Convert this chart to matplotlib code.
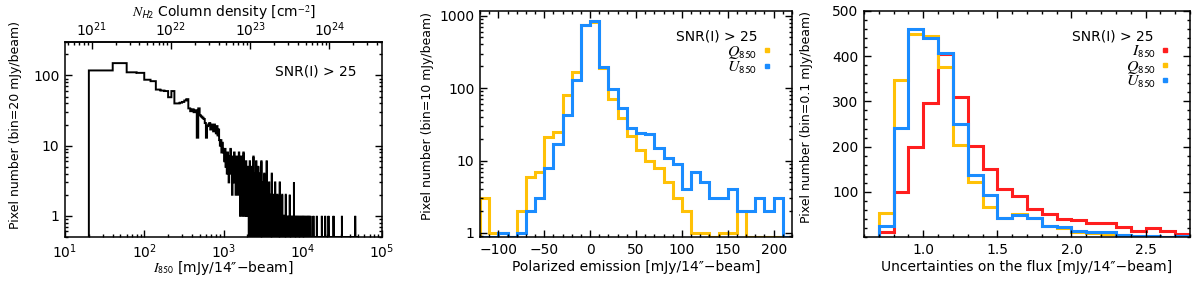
import numpy as np
import matplotlib
matplotlib.use("Agg")
import matplotlib.pyplot as plt
from matplotlib.ticker import (FuncFormatter, NullFormatter, MultipleLocator,
                               FixedLocator)

plt.rcParams['font.family'] = ['DejaVu Sans']
plt.rcParams['font.size'] = 9.5
plt.rcParams['xtick.labelsize'] = 10
plt.rcParams['ytick.labelsize'] = 10
plt.rcParams['mathtext.fontset'] = 'stix'
plt.rcParams['axes.linewidth'] = 1.1

# ---- panel 1: I850 histogram (bin = 20 mJy/beam, starting at 20) ----
i_bin_start = 20
i_bin_width = 20
i_bin_stop = 50000
i_counts = [118, 150, 111, 109, 87, 83, 63, 61, 60, 49,
            60, 40, 40, 41, 42, 44, 46, 34, 31, 33,
            30, 32, 13, 34, 27, 26, 25, 24, 21, 13,
            19, 20, 21, 17, 20, 19, 16, 20, 17, 15,
            19, 14, 17, 12, 10, 12, 8, 11, 9, 8,
            6, 9, 5, 7, 4, 8, 6, 3, 7, 5,
            9, 4, 6, 2, 7, 5, 3, 8, 4, 6,
            2, 5, 7, 3, 6, 2, 4, 8, 3, 5,
            1, 4, 7, 2, 3, 6, 1, 4, 8, 2,
            3, 5, 1, 4, 2, 6, 3, 1, 4, 2,
            5, 1, 3, 0, 4, 2, 6, 1, 3, 0,
            2, 5, 1, 3, 0, 2, 4, 1, 7, 0,
            2, 3, 1, 0, 4, 1, 2, 0, 6, 0]
# sparse tail beyond 2600 mJy/beam: bin lower edge and count
i_tail_edges = [2620, 2660, 2700, 2740, 2780, 2820, 2860, 2900, 2960, 3000,
                3040, 3080, 3120, 3180, 3220, 3260, 3320, 3380, 3440, 3500,
                3560, 3620, 3700, 3760, 3840, 3900, 3980, 4060, 4140, 4220,
                4300, 4400, 4480, 4580, 4680, 4780, 4880, 5000, 5120, 5240,
                5380, 5500, 5640, 5800, 5960, 6100, 6280, 6460, 6640, 6860,
                7060, 7280, 7500, 7740, 7980, 8240, 8500, 8780, 9080, 9400,
                9720, 10060, 10420, 10800, 11200, 11620, 12060, 12500, 13640, 15060,
                17420, 19180, 21120, 24440, 31200, 45900]
i_tail_counts = [1, 3, 1, 5, 2, 1, 4, 1, 2, 6,
                 1, 3, 1, 2, 1, 4, 1, 2, 1, 6,
                 1, 2, 1, 3, 1, 2, 1, 4, 1, 1,
                 2, 1, 3, 1, 1, 2, 1, 1, 3, 1,
                 1, 2, 1, 1, 1, 2, 1, 1, 1, 2,
                 1, 1, 1, 3, 1, 1, 1, 1, 1, 1,
                 1, 1, 1, 1, 1, 1, 1, 1, 1, 1,
                 1, 1, 1, 1, 1, 1]
nh_per_i = 4.6e19

# ---- panel 2: polarized emission (bin = 10 mJy/beam) ----
pol_edges = list(range(-120, 221, 10))
q_counts = [3, 1, 1, 0, 2, 6, 7, 21, 25, 80, 165, 750, 820, 190, 71, 39, 22,
            14, 10, 8, 5, 3, 2, 1, 1, 0, 1, 1, 2, 0, 0, 0, 0, 0]
u_counts = [0, 0, 1, 0, 1, 2, 3, 8, 17, 42, 130, 750, 850, 198, 97, 53, 28,
            24, 23, 15, 11, 9, 4, 7, 5, 3, 3, 4, 2, 2, 3, 2, 3, 0]

# ---- panel 3: flux uncertainties (bin = 0.1 mJy/beam) ----
unc_edges = [0.7, 0.8, 0.9, 1.0, 1.1, 1.2, 1.3, 1.4, 1.5, 1.6, 1.7, 1.8,
             1.9, 2.0, 2.1, 2.2, 2.3, 2.4, 2.5, 2.6, 2.7, 2.8]
i_unc = [11, 99, 200, 297, 404, 310, 201, 150, 107, 90, 62, 50, 39, 37, 31,
         30, 22, 14, 20, 14, 7]
q_unc = [53, 348, 450, 445, 376, 203, 122, 67, 43, 50, 42, 24, 20, 11, 8, 7,
         5, 0, 1, 0, 0]
u_unc = [25, 241, 460, 440, 407, 249, 137, 92, 43, 48, 43, 25, 22, 14, 10, 10,
         5, 2, 3, 0, 2]

c_red = "#FF1E1E"
c_yel = "#FFC107"
c_blu = "#1A8CFF"

W, H = 1200, 287
fig = plt.figure(figsize=(W / 100, H / 100), dpi=100)


def box(l, r, t, b):
    return [l / W, (H - b) / H, (r - l) / W, (b - t) / H]


def style(ax):
    ax.tick_params(which='both', direction='in', top=True, right=True,
                   width=1.0)
    ax.tick_params(which='major', length=5, pad=4)
    ax.tick_params(which='minor', length=2.5)


plain = FuncFormatter(lambda v, p: f"{v:g}")
snr = "SNR(I) > 25"

# panel 1
ax1 = fig.add_axes(box(65, 382, 42, 237))
edges1 = np.arange(i_bin_start, i_bin_stop + i_bin_width, i_bin_width)
full = np.zeros(len(edges1) - 1)
full[:len(i_counts)] = i_counts
for e, c in zip(i_tail_edges, i_tail_counts):
    full[(e - i_bin_start) // i_bin_width] = c
ymin1 = 0.5
ax1.stairs(np.maximum(full, ymin1), edges1, baseline=ymin1, color='black',
           lw=1.4)
ax1.set_xscale('log')
ax1.set_yscale('log')
ax1.set_xlim(10, 1e5)
ax1.set_ylim(ymin1, 300)
style(ax1)
ax1.tick_params(which='both', top=False)
ax1.yaxis.set_major_locator(FixedLocator([1, 10, 100]))
ax1.yaxis.set_major_formatter(plain)
ax1.yaxis.set_minor_formatter(NullFormatter())
ax1.set_xlabel("$\\mathit{I}_{\\mathsf{850}}$ [mJy/14\u2033\u2212beam]",
               va='center', fontsize=10)
ax1.xaxis.set_label_coords(0.5, -0.16)
ax1.set_ylabel("Pixel number (bin=20 mJy/beam)", va='center', fontsize=9)
ax1.yaxis.set_label_coords(-0.155, 0.574)
top = ax1.secondary_xaxis('top', functions=(lambda x: x * nh_per_i,
                                            lambda n: n / nh_per_i))
top.tick_params(which='both', direction='in', width=1.0)
top.tick_params(which='major', length=5, pad=2.5)
top.tick_params(which='minor', length=2.5)
top.set_xlabel("$\\mathit{N}_{\\mathsf{H2}}$ Column density [cm$^{-2}$]",
               fontsize=10, labelpad=2)
ax1.text(0.92, 0.848, snr, transform=ax1.transAxes, ha='right',
         va='center', fontsize=10)

# panel 2
ax2 = fig.add_axes(box(480, 792, 11, 237))
ymin2 = 0.88
ax2.stairs(np.maximum(q_counts, ymin2), pol_edges, baseline=ymin2,
           color=c_yel, lw=2.2)
ax2.stairs(np.maximum(u_counts, ymin2), pol_edges, baseline=ymin2,
           color=c_blu, lw=2.2)
ax2.set_yscale('log')
ax2.set_xlim(-120, 220)
ax2.set_ylim(ymin2, 1160)
style(ax2)
ax2.xaxis.set_major_locator(MultipleLocator(50))
ax2.xaxis.set_minor_locator(MultipleLocator(10))
ax2.yaxis.set_major_locator(FixedLocator([1, 10, 100, 1000]))
ax2.yaxis.set_major_formatter(plain)
ax2.yaxis.set_minor_formatter(NullFormatter())
ax2.set_xlabel("Polarized emission [mJy/14\u2033\u2212beam]", va='center',
               fontsize=10)
ax2.xaxis.set_label_coords(0.5, -0.131)
ax2.set_ylabel("Pixel number (bin=10 mJy/beam)", va='center', fontsize=9)
ax2.yaxis.set_label_coords(-0.167, 0.537)
ax2.text(0.888, 0.888, snr, transform=ax2.transAxes, ha='right',
         va='center', fontsize=10)
for label, col, yy in [("$\\mathit{Q}_{\\mathsf{850}}$", c_yel, 0.818),
                       ("$\\mathit{U}_{\\mathsf{850}}$", c_blu, 0.748)]:
    ax2.text(0.888, yy, label, transform=ax2.transAxes, ha='right',
             va='center', fontsize=11.5)
    ax2.plot([0.92], [yy + 0.01], 's', color=col, ms=3.5,
             transform=ax2.transAxes)

# panel 3
ax3 = fig.add_axes(box(864, 1190, 11, 237))
for vals, col in [(i_unc, c_red), (q_unc, c_yel), (u_unc, c_blu)]:
    ax3.stairs(vals, unc_edges, baseline=0, color=col, lw=2.2)
ax3.set_xlim(0.6, 2.8)
ax3.set_ylim(0, 500)
style(ax3)
ax3.xaxis.set_major_locator(MultipleLocator(0.5))
ax3.xaxis.set_minor_locator(MultipleLocator(0.1))
ax3.xaxis.set_major_formatter(FuncFormatter(lambda v, p: f"{v:.1f}"))
ax3.yaxis.set_major_locator(FixedLocator([100, 200, 300, 400, 500]))
ax3.yaxis.set_minor_locator(MultipleLocator(20))
ax3.set_xlabel("Uncertainties on the flux [mJy/14\u2033\u2212beam]",
               va='center', fontsize=10)
ax3.xaxis.set_label_coords(0.5, -0.131)
ax3.set_ylabel("Pixel number (bin=0.1 mJy/beam)", va='center', fontsize=9)
ax3.yaxis.set_label_coords(-0.175, 0.532)
ax3.text(0.887, 0.888, snr, transform=ax3.transAxes, ha='right',
         va='center', fontsize=10)
for label, col, yy in [("$\\mathit{I}_{\\mathsf{850}}$", c_red, 0.818),
                       ("$\\mathit{Q}_{\\mathsf{850}}$", c_yel, 0.750),
                       ("$\\mathit{U}_{\\mathsf{850}}$", c_blu, 0.684)]:
    ax3.text(0.896, yy, label, transform=ax3.transAxes, ha='right',
             va='center', fontsize=11.5)
    ax3.plot([0.923], [yy + 0.01], 's', color=col, ms=3.5,
             transform=ax3.transAxes)

fig.savefig("out.png", dpi=100)
